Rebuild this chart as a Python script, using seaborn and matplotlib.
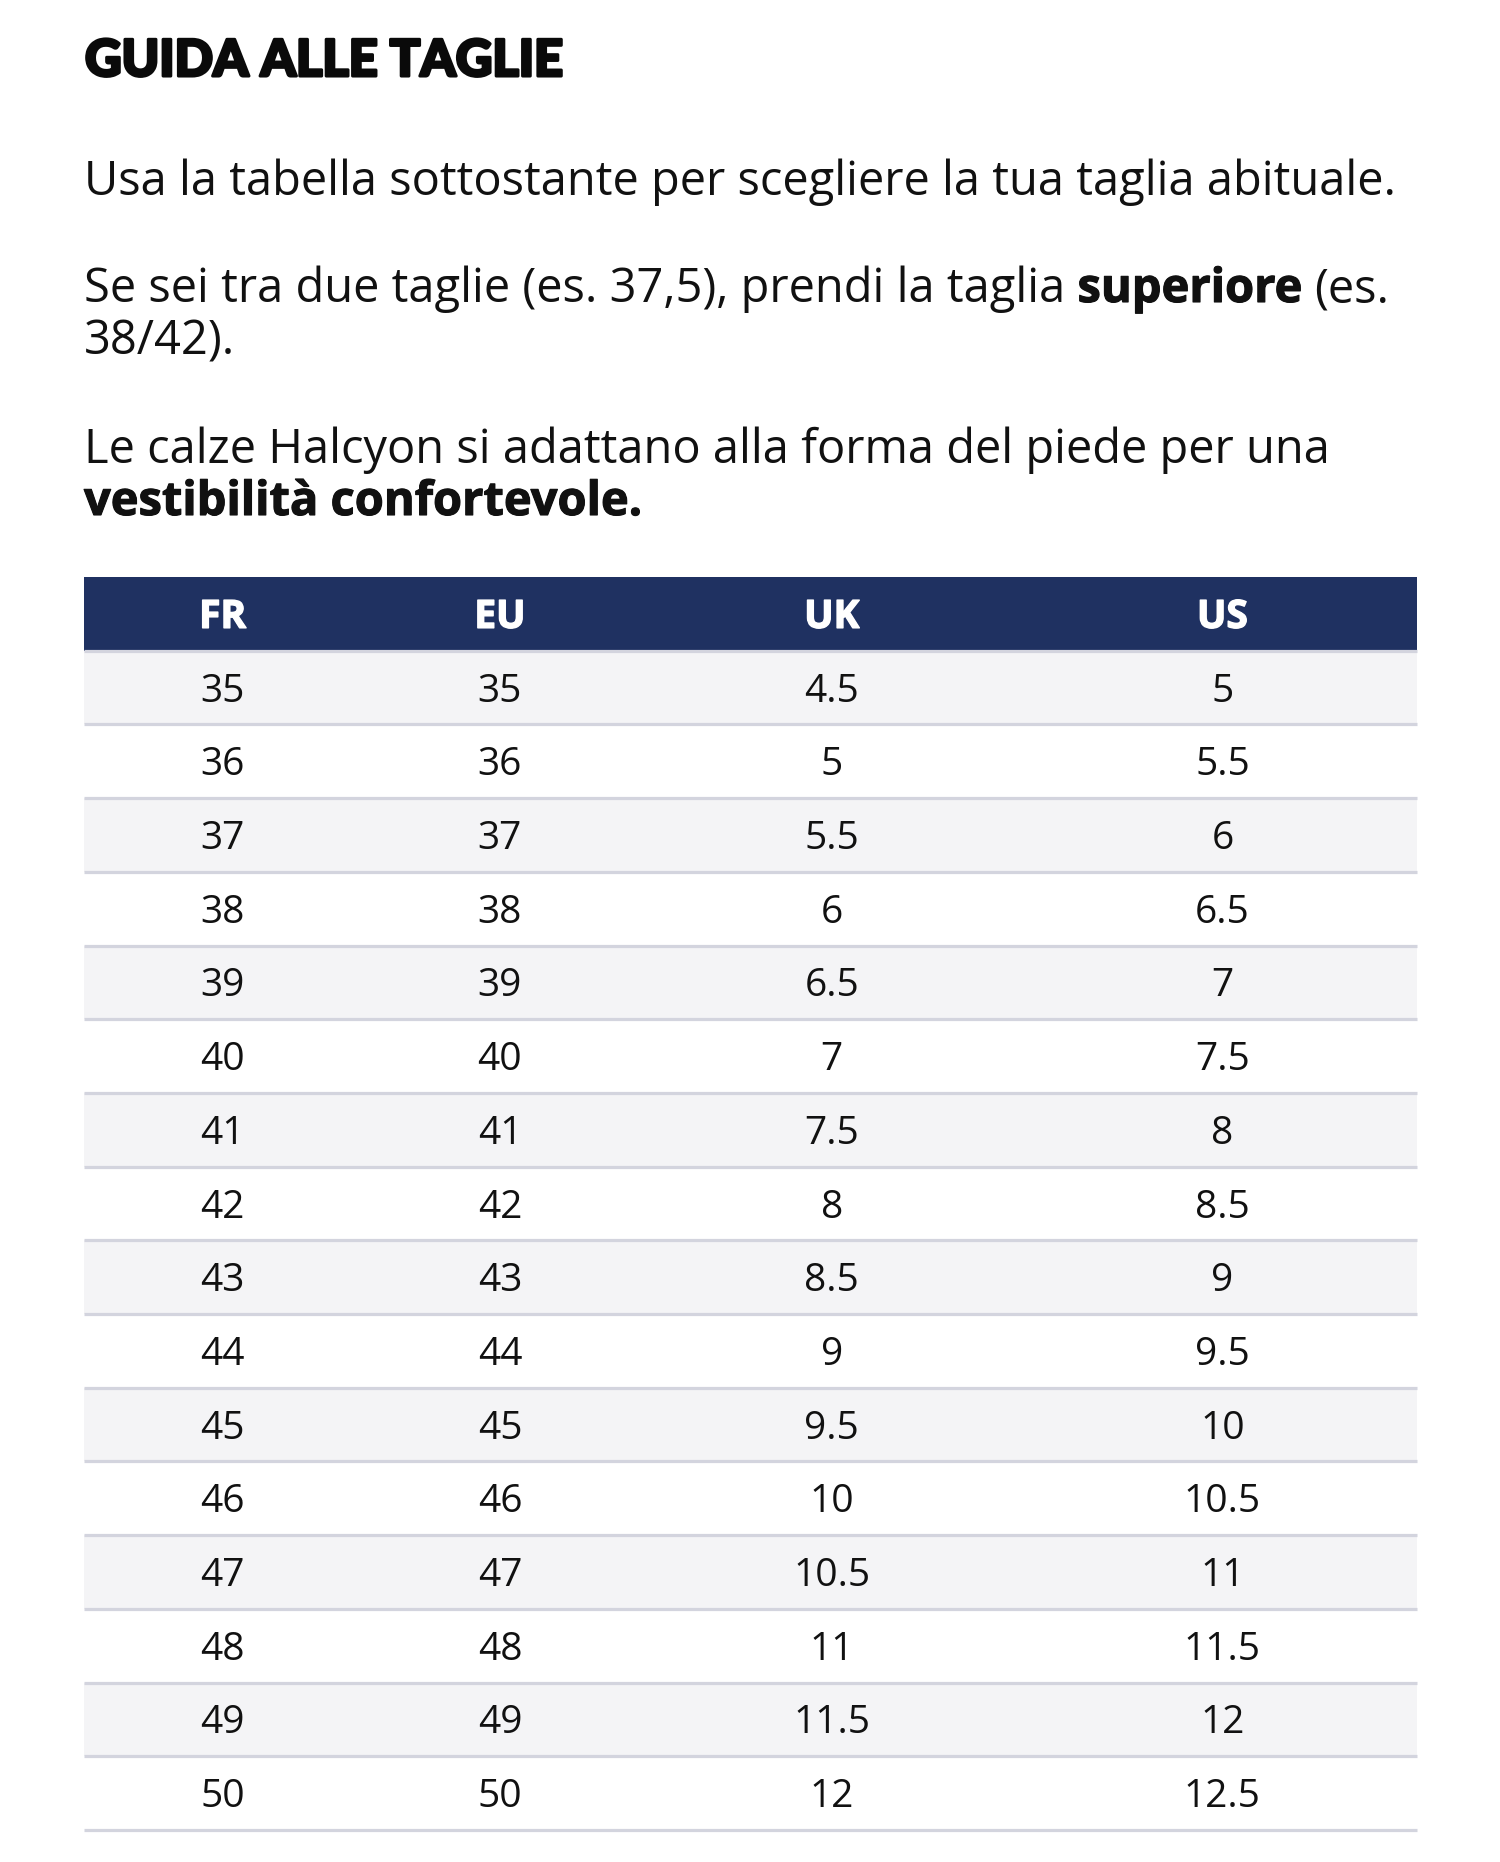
import matplotlib
matplotlib.use("Agg")
import matplotlib.pyplot as plt
import matplotlib.patheffects as pe
import seaborn as sns
import numpy as np
import pandas as pd
from matplotlib.colors import ListedColormap
from matplotlib.transforms import blended_transform_factory

# ---------------- data ----------------
title = "GUIDA ALLE TAGLIE"
line1 = [("Usa la tabella sottostante per scegliere la tua taglia abituale.", "normal")]
line2 = [("Se sei tra due taglie (es. 37,5), prendi la taglia", "normal"),
         ("superiore", "bold"), ("(es.", "normal")]
line3 = [("38/42).", "normal")]
line4 = [("Le calze Halcyon si adattano alla forma del piede per una", "normal")]
line5 = [("vestibilità confortevole.", "bold")]

columns = ["FR", "EU", "UK", "US"]
fr_sizes = ["35", "36", "37", "38", "39", "40", "41", "42", "43", "44", "45", "46", "47", "48", "49", "50"]
eu_sizes = ["35", "36", "37", "38", "39", "40", "41", "42", "43", "44", "45", "46", "47", "48", "49", "50"]
uk_sizes = ["4.5", "5", "5.5", "6", "6.5", "7", "7.5", "8", "8.5", "9", "9.5", "10", "10.5", "11", "11.5", "12"]
us_sizes = ["5", "5.5", "6", "6.5", "7", "7.5", "8", "8.5", "9", "9.5", "10", "10.5", "11", "11.5", "12", "12.5"]

table = pd.DataFrame({"FR": fr_sizes, "EU": eu_sizes, "UK": uk_sizes, "US": us_sizes})

# ---------------- style ----------------
sns.set_theme(style="white")
BODY = ["Open Sans", "DejaVu Sans"]
HEAVY = ["Lato", "DejaVu Sans"]
plt.rcParams["font.family"] = BODY

NAVY = "#1f3161"
GRAY = "#f4f4f6"
SEP = "#d3d4de"

W, H = 1500, 1862
fig = plt.figure(figsize=(W / 100, H / 100), dpi=100)
fig.patch.set_facecolor("white")
ax = fig.add_axes([0, 0, 1, 1])
ax.set_xlim(0, W)
ax.set_ylim(H, 0)
ax.axis("off")

fig.canvas.draw()
renderer = fig.canvas.get_renderer()


def width_of(s, size, weight, family):
    t = ax.text(0, 0, s, fontsize=size, fontweight=weight, family=family)
    w = t.get_window_extent(renderer).width
    t.remove()
    return w


# title fitted to reference width, thickened to mimic an extra-bold face
LEFT = 84
tsize = 40 * 478 / width_of(title, 40, 900, HEAVY)
ax.text(LEFT + 1, 76, title, fontsize=tsize, fontweight=900, family=HEAVY,
        color="#0a0a0a", va="baseline", ha="left",
        path_effects=[pe.withStroke(linewidth=2.2, foreground="#0a0a0a")])

# body fitted to first line width
bsize = 28 * 1311 / width_of(line1[0][0], 28, "normal", BODY)
space = width_of("a a", bsize, "normal", BODY) - width_of("aa", bsize, "normal", BODY)

baselines = [195, 302, 355, 463, 515]
for segs, yb in zip([line1, line2, line3, line4, line5], baselines):
    x = LEFT
    for k, (s, wt) in enumerate(segs):
        kw = {}
        if wt == "bold":
            kw["path_effects"] = [pe.withStroke(linewidth=0.8, foreground="#111111")]
        t = ax.text(x, yb, s, fontsize=bsize, fontweight=wt, family=BODY,
                    color="#111111", va="baseline", ha="left", **kw)
        x += t.get_window_extent(renderer).width + space

# ---------------- table ----------------
T_LEFT, T_RIGHT, T_TOP, T_BOTTOM = 84, 1417, 577, 1830
tax = fig.add_axes([T_LEFT / W, 1 - T_BOTTOM / H, (T_RIGHT - T_LEFT) / W, (T_BOTTOM - T_TOP) / H])

n_rows = len(table) + 1
shade = np.array([[2]] + [[1 - (i % 2)] for i in range(len(table))], dtype=float)
sns.heatmap(shade, cmap=ListedColormap(["#ffffff", GRAY, NAVY]), vmin=0, vmax=2,
            cbar=False, ax=tax, xticklabels=False, yticklabels=False, linewidths=0)
for sp in tax.spines.values():
    sp.set_visible(False)

tax.hlines(np.arange(1, n_rows + 1), 0, shade.shape[1], colors=SEP, linewidth=2.3, clip_on=False)

col_centers = [0.104, 0.312, 0.561, 0.854]
trans = blended_transform_factory(tax.transAxes, tax.transData)
row_px = (T_BOTTOM - T_TOP) / n_rows
off = 14 / row_px
csize = 28
for j, c in enumerate(columns):
    tax.text(col_centers[j], 0.5 + off, c, transform=trans, ha="center", va="baseline",
             fontsize=csize, fontweight="bold", color="white", family=BODY,
             path_effects=[pe.withStroke(linewidth=1.0, foreground="white")])
    for i, v in enumerate(table[c]):
        tax.text(col_centers[j], i + 1.5 + off, v, transform=trans, ha="center", va="baseline",
                 fontsize=csize, color="#111111", family=BODY)

fig.savefig("out.png", dpi=100, facecolor="white")
